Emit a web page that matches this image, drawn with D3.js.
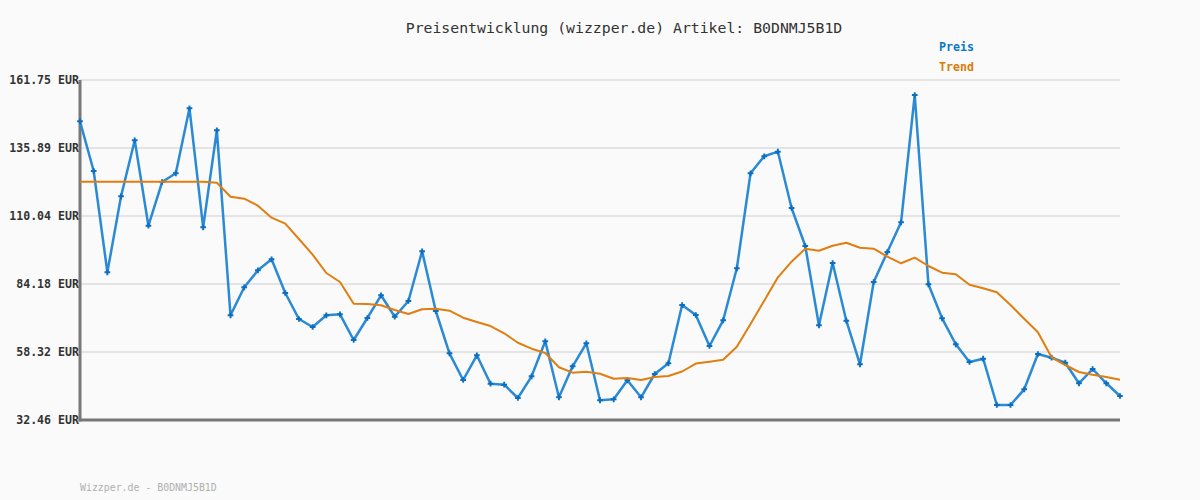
<!DOCTYPE html>
<html><head><meta charset="utf-8">
<script src="https://cdn.jsdelivr.net/npm/d3@7"></script>
<style>html,body{margin:0;padding:0;background:#fafafa;}svg{display:block;}</style>
</head><body><div id="chart"></div>
<script>
const titleText = "Preisentwicklung (wizzper.de) Artikel: B0DNMJ5B1D";
const footerText = "Wizzper.de - B0DNMJ5B1D";
const seriesNames = ["Preis", "Trend"];
const tickValues = [32.46, 58.32, 84.18, 110.04, 135.89, 161.75];
const tickLabels = ["32.46 EUR", "58.32 EUR", "84.18 EUR", "110.04 EUR", "135.89 EUR", "161.75 EUR"];
const preis = [146.04,127.15,88.63,117.53,138.82,106.35,122.96,126.27,150.99,105.74,
  142.62,72.27,82.92,89.39,93.57,80.75,70.87,67.82,72.27,72.65,
  62.88,71.25,79.88,71.74,77.71,96.61,73.91,57.82,47.67,57.06,
  46.26,45.88,40.83,49.08,62.39,41.09,52.88,61.63,39.95,40.33,
  47.56,41.09,49.95,54.02,76.19,72.39,60.60,70.37,90.15,126.27,
  132.74,134.49,113.08,98.63,68.47,92.16,70.22,53.64,84.94,96.34,
  107.64,156.05,84.06,71.13,61.25,54.52,55.77,38.16,38.16,44.13,
  57.56,56.15,54.25,46.42,51.85,46.42,41.59];
const trend = [123.08,123.08,123.08,123.08,123.08,123.08,123.08,123.08,123.08,123.08,
  122.7,117.37,116.61,113.95,109.39,107.11,101.29,95.32,88.36,84.94,
  76.68,76.57,76.08,74.29,72.77,74.56,74.78,74.02,71.36,69.73,
  68.20,65.43,61.85,59.57,57.94,52.50,50.45,50.83,50.07,48.17,
  48.43,47.67,48.81,49.19,50.90,53.94,54.63,55.39,60.33,68.97,
  77.83,86.72,92.66,97.60,96.84,98.74,99.88,97.98,97.60,94.56,
  92.05,94.18,91.02,88.47,87.86,83.91,82.54,81.02,76.19,70.98,
  65.81,56.30,53.37,50.71,49.69,48.81,47.78];

const W = 1200, H = 500;
const L = 80, R = 1120, T = 80, B = 420;
const svg = d3.select("#chart").append("svg").attr("width", W).attr("height", H)
  .style("background", "#fafafa");

const x = d3.scaleLinear().domain([0, preis.length - 1]).range([L, R]);
const y = d3.scaleLinear().domain([tickValues[0], tickValues[tickValues.length - 1]]).range([B, T]);

// grid
svg.append("g").selectAll("line").data(tickValues.slice(1)).join("line")
  .attr("x1", L).attr("x2", R).attr("y1", d => y(d)).attr("y2", d => y(d))
  .attr("stroke", "#e4e4e4").attr("stroke-width", 2);

// y axis labels
const yAxis = d3.axisLeft(y).tickValues(tickValues).tickSize(0).tickPadding(1)
  .tickFormat((d, i) => tickLabels[i]);
const ga = svg.append("g").attr("transform", `translate(${L},0)`).call(yAxis);
ga.select(".domain").remove();
ga.selectAll("text").attr("font-family", "'DejaVu Sans Mono', monospace")
  .attr("font-weight", "bold").attr("font-size", "11.6px").attr("fill", "#333");

// axes lines
svg.append("line").attr("x1", L).attr("x2", L).attr("y1", T).attr("y2", B + 1.5)
  .attr("stroke", "#777").attr("stroke-width", 3);
svg.append("line").attr("x1", L - 1.5).attr("x2", R).attr("y1", B).attr("y2", B)
  .attr("stroke", "#777").attr("stroke-width", 3);

// lines
const line = d3.line().x((d, i) => x(i)).y(d => y(d));
svg.append("path").datum(preis).attr("d", line).attr("fill", "none")
  .attr("stroke", "#2a8ad4").attr("stroke-width", 2.5).attr("stroke-linejoin", "round");
svg.append("g").selectAll("path").data(preis).join("path")
  .attr("d", d3.symbol(d3.symbolCross, 18))
  .attr("transform", (d, i) => `translate(${x(i)},${y(d)})`)
  .attr("fill", "#0a6fc2");
svg.append("path").datum(trend).attr("d", line).attr("fill", "none")
  .attr("stroke", "#e07e10").attr("stroke-width", 2).attr("stroke-linejoin", "round");

// title
svg.append("text").attr("x", 624).attr("y", 33).attr("text-anchor", "middle")
  .attr("font-family", "'DejaVu Sans Mono', monospace").attr("font-size", "14.8px")
  .attr("fill", "#333").text(titleText);

// legend
const legColors = ["#0a78c8", "#dc7a08"];
svg.append("g").selectAll("text").data(seriesNames).join("text")
  .attr("x", 939).attr("y", (d, i) => 51 + i * 20)
  .attr("font-family", "'DejaVu Sans Mono', monospace").attr("font-weight", "bold")
  .attr("font-size", "11.6px").attr("fill", (d, i) => legColors[i]).text(d => d);

// footer
svg.append("text").attr("x", 80).attr("y", 491)
  .attr("font-family", "'DejaVu Sans Mono', monospace").attr("font-size", "9.9px")
  .attr("fill", "#b0b0b0").text(footerText);
</script></body></html>
